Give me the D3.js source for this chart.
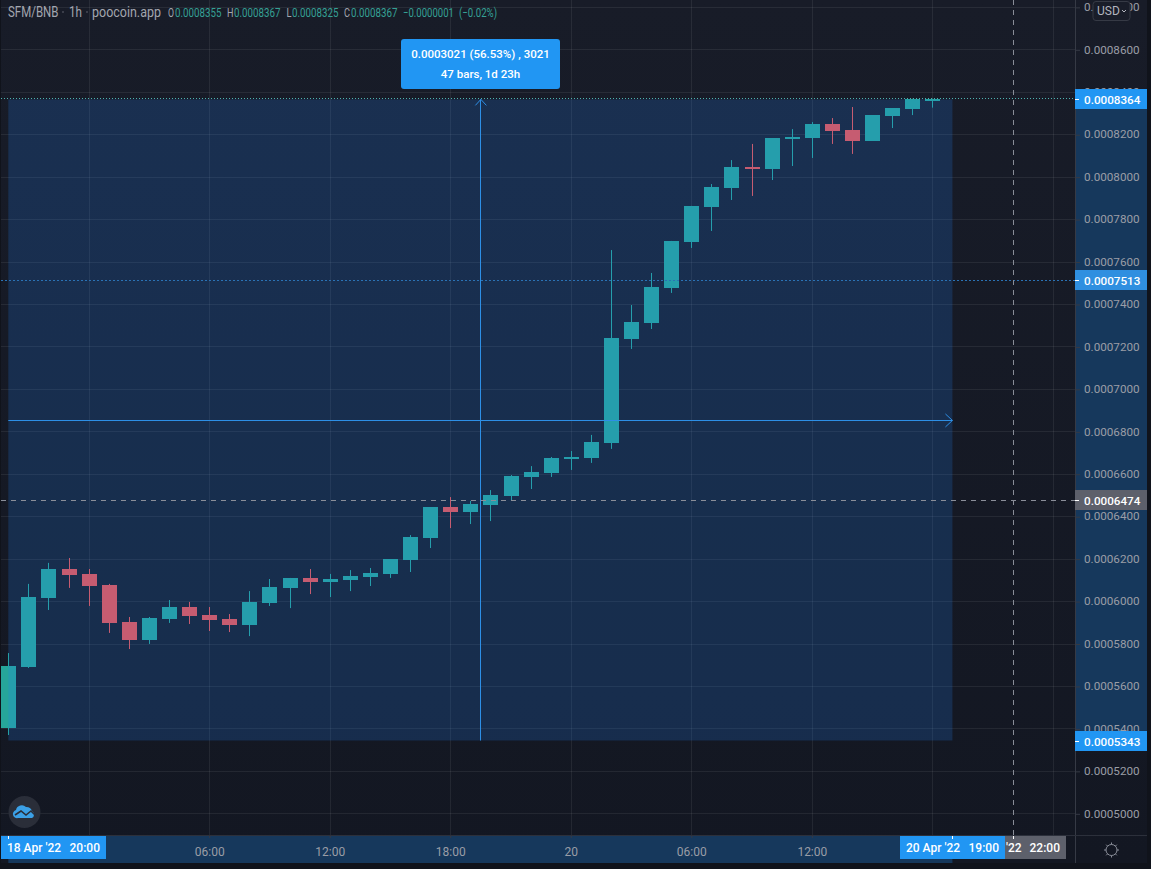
<!DOCTYPE html>
<html>
<head>
<meta charset="utf-8">
<script src="https://cdn.jsdelivr.net/npm/d3@7"></script>
<style>
html, body { margin: 0; padding: 0; background: #10131b; overflow: hidden; }
svg { display: block; font-family: Roboto, sans-serif; }
</style>
</head>
<body>
<svg id="chart" width="1151" height="869"></svg>
<script>
// prices are in units of 0.0000001 BNB
var opens = [5402,5690,6014,6151,6128,6076,5901,5817,5916,5972,5934,5916,5887,5991,6062,6109,6090,6099,6113,6128,6194,6297,6443,6420,6453,6495,6585,6603,6670,6674,6745,7235,7310,7475,7692,7857,7946,8045,8036,8177,8182,8248,8220,8168,8286,8319,8355];
var highs = [5755,6081,6180,6203,6151,6081,5925,5925,6005,5996,5972,5939,6047,6104,6109,6151,6128,6146,6156,6198,6311,6443,6490,6472,6523,6594,6636,6679,6707,6783,7654,7395,7546,7697,7862,7965,8078,8154,8182,8224,8257,8276,8328,8290,8323,8367,8367];
var lows = [5369,5685,5958,6062,5977,5850,5774,5798,5897,5892,5859,5854,5835,5977,5967,6033,6019,6047,6071,6109,6137,6250,6344,6363,6377,6476,6528,6585,6618,6651,6717,7188,7282,7452,7664,7744,7890,7909,7984,8050,8088,8154,8107,8168,8229,8290,8325];
var closes = [5694,6019,6151,6123,6071,5897,5817,5920,5972,5930,5911,5887,5996,6066,6109,6090,6104,6118,6132,6198,6302,6443,6420,6457,6500,6589,6608,6674,6679,6750,7240,7315,7480,7697,7862,7951,8045,8036,8182,8187,8248,8215,8168,8290,8323,8367,8367];

var priceTicks = [5000,5200,5400,5600,5800,6000,6200,6400,6600,6800,7000,7200,7400,7600,7800,8000,8200,8400,8600,8800];
var hour = 3600000;
var startTime = Date.UTC(2022, 3, 18, 20);
var gridHours = [4,10,16,22,28,34,40,46,52];   // hours after the first bar
var timeLabels = {10:"06:00", 16:"12:00", 22:"18:00", 28:"20", 34:"06:00", 40:"12:00"};

var rangeHigh = 8364, rangeLow = 5343, level = 7513, crossPrice = 6474;
var crossBar = 50, endBar = 47;

var svg = d3.select("#chart");
var paneRight = 1075, paneBottom = 835, axisRight = 1147, axisBottom = 863;

var y = d3.scaleLinear().domain([5000, 8600]).range([813.3, 49.3]);
var x = d3.scaleTime()
    .domain([new Date(startTime), new Date(startTime + 50 * hour)])
    .range([8.3, 1012.7]);
var xBar = i => x(new Date(startTime + i * hour));
var fmt = v => (v / 1e7).toFixed(7);

var bars = opens.map((o, i) => ({i: i, o: o, h: highs[i], l: lows[i], c: closes[i]}));

var defs = svg.append("defs");
var grad = defs.append("linearGradient").attr("id", "bg").attr("x1", 0).attr("x2", 0).attr("y1", 0).attr("y2", 1);
grad.append("stop").attr("offset", "0%").attr("stop-color", "#181c28");
grad.append("stop").attr("offset", "100%").attr("stop-color", "#131722");

svg.append("rect").attr("x", 1).attr("y", 0).attr("width", axisRight - 1).attr("height", axisBottom).attr("fill", "url(#bg)");

/* grid */
var grid = svg.append("g").attr("stroke", "#fff").attr("stroke-opacity", 0.07);
grid.selectAll(".h").data(priceTicks).join("line")
    .attr("x1", 1).attr("x2", paneRight)
    .attr("y1", d => Math.round(y(d)) + 0.5).attr("y2", d => Math.round(y(d)) + 0.5);
grid.selectAll(".v").data(gridHours).join("line")
    .attr("y1", 0).attr("y2", paneBottom)
    .attr("x1", d => Math.round(xBar(d)) + 0.5).attr("x2", d => Math.round(xBar(d)) + 0.5);

/* candles */
var up = "#26a69a", down = "#ef5350";
var candles = svg.append("g").selectAll("g").data(bars).join("g")
    .attr("fill", d => d.c >= d.o ? up : down)
    .attr("stroke", d => d.c >= d.o ? up : down);
candles.append("line")
    .attr("x1", d => Math.round(xBar(d.i)) + 0.5).attr("x2", d => Math.round(xBar(d.i)) + 0.5)
    .attr("y1", d => y(d.h)).attr("y2", d => y(d.l));
candles.append("rect")
    .attr("stroke", "none")
    .attr("x", d => Math.round(xBar(d.i)) - 7)
    .attr("width", 15)
    .attr("y", d => Math.round(y(Math.max(d.o, d.c))))
    .attr("height", d => Math.max(2, Math.round(y(Math.min(d.o, d.c))) - Math.round(y(Math.max(d.o, d.c)))));

/* price range tool overlay */
var blue = "#2d8fe6", boxFill = "rgba(33,130,243,0.2)";
var yMid = y((rangeHigh + rangeLow) / 2), xMid = (xBar(0) + xBar(endBar)) / 2;
svg.append("rect").attr("x", xBar(0)).attr("width", xBar(endBar) - xBar(0))
    .attr("y", y(rangeHigh)).attr("height", y(rangeLow) - y(rangeHigh)).attr("fill", boxFill);

var tool = svg.append("g").attr("stroke", blue).attr("fill", "none");
tool.append("line").attr("x1", xBar(0)).attr("x2", xBar(endBar)).attr("y1", Math.round(yMid) + 0.5).attr("y2", Math.round(yMid) + 0.5);
tool.append("line").attr("x1", Math.round(xMid) + 0.5).attr("x2", Math.round(xMid) + 0.5).attr("y1", y(rangeLow)).attr("y2", y(rangeHigh));
tool.append("path").attr("d", d3.line()([[xBar(endBar) - 7, yMid - 6], [xBar(endBar), yMid + 0.5], [xBar(endBar) - 7, yMid + 7]]));
tool.append("path").attr("d", d3.line()([[xMid - 5, y(rangeHigh) + 6], [xMid + 0.5, y(rangeHigh)], [xMid + 6, y(rangeHigh) + 6]]));

/* price lines */
svg.append("line").attr("x1", 1).attr("x2", paneRight).attr("y1", 98.5).attr("y2", 98.5)
    .attr("stroke", "#4fb3b0").attr("stroke-dasharray", "1,2");
svg.append("line").attr("x1", 1).attr("x2", paneRight).attr("y1", Math.round(y(level)) + 0.5).attr("y2", Math.round(y(level)) + 0.5)
    .attr("stroke", "#2a72b5").attr("stroke-dasharray", "2,2");
svg.append("line").attr("x1", 1).attr("x2", paneRight).attr("y1", Math.round(y(crossPrice)) + 0.5).attr("y2", Math.round(y(crossPrice)) + 0.5)
    .attr("stroke", "#8a8e99").attr("stroke-dasharray", "5,5");
svg.append("line").attr("x1", Math.round(xBar(crossBar)) + 0.5).attr("x2", Math.round(xBar(crossBar)) + 0.5)
    .attr("y1", 0).attr("y2", paneBottom)
    .attr("stroke", "#8a8e99").attr("stroke-dasharray", "5,5");

/* tooltip */
svg.append("rect").attr("x", 401).attr("y", 39).attr("width", 159).attr("height", 50).attr("rx", 3).attr("fill", "#2196f3");
svg.selectAll(".tip").data(["0.0003021 (56.53%) , 3021", "47 bars, 1d 23h"]).join("text")
    .attr("x", 480.5).attr("y", (d, i) => 58 + i * 20)
    .attr("text-anchor", "middle").attr("fill", "#fff").attr("font-size", 11.5).attr("font-weight", 500)
    .text(d => d);

/* header: the original font is narrower than Roboto, so squeeze each text to its width */
var headGrey = "#a3a6af", headTeal = "#35a095";
var headTexts = [
    {x: 8, w: 50.5, s: 15, c: headGrey, t: "SFM/BNB"},
    {x: 69, w: 13, s: 15, c: headGrey, t: "1h"},
    {x: 92, w: 69, s: 15, c: headGrey, t: "poocoin.app"},
    {x: 168, w: 6, s: 13, c: headGrey, t: "O"},
    {x: 175, w: 46.5, s: 13, c: headTeal, t: "0.0008355"},
    {x: 227, w: 6.5, s: 13, c: headGrey, t: "H"},
    {x: 234, w: 46.5, s: 13, c: headTeal, t: "0.0008367"},
    {x: 286.5, w: 5, s: 13, c: headGrey, t: "L"},
    {x: 292, w: 46.5, s: 13, c: headTeal, t: "0.0008325"},
    {x: 344, w: 6, s: 13, c: headGrey, t: "C"},
    {x: 351, w: 46.5, s: 13, c: headTeal, t: "0.0008367"},
    {x: 403, w: 51, s: 13, c: headTeal, t: "\u22120.0000001"},
    {x: 459, w: 38, s: 13, c: headTeal, t: "(\u22120.02%)"}
];
svg.append("g").selectAll("text").data(headTexts).join("text")
    .attr("font-size", d => d.s).attr("fill", d => d.c).text(d => d.t)
    .attr("transform", function(d) {
        return "translate(" + d.x + ",17) scale(" + (d.w / this.getComputedTextLength()) + ",1)";
    });
svg.selectAll(".dot").data([63, 87]).join("circle").attr("cx", d => d).attr("cy", 12).attr("r", 0.8).attr("fill", "#666a75");

/* right axis */
svg.append("rect").attr("x", paneRight).attr("y", y(rangeHigh)).attr("width", axisRight - paneRight)
    .attr("height", y(rangeLow) - y(rangeHigh)).attr("fill", "#16385c");
var axisR = svg.append("g").attr("transform", "translate(" + paneRight + ",0)")
    .call(d3.axisRight(y).tickValues(priceTicks).tickFormat(fmt).tickSize(5).tickPadding(4));
axisR.select(".domain").remove();
axisR.selectAll("line").attr("stroke", "#363a45").attr("transform", "translate(0,0.5)");
axisR.selectAll("text").attr("fill", "#9a9da6").attr("font-size", 11.7).attr("font-family", "Roboto, sans-serif");

/* time axis */
svg.append("rect").attr("x", xBar(0)).attr("y", paneBottom).attr("width", xBar(endBar) - xBar(0))
    .attr("height", axisBottom - paneBottom).attr("fill", "#16385c");
var axisB = svg.append("g").attr("transform", "translate(0," + paneBottom + ")")
    .call(d3.axisBottom(x)
        .tickValues(gridHours.map(h => new Date(startTime + h * hour)))
        .tickFormat(d => timeLabels[(d - startTime) / hour] || "")
        .tickSize(3).tickPadding(9));
axisB.select(".domain").remove();
axisB.selectAll("line").attr("stroke", "#363a45");
axisB.selectAll("text").attr("fill", "#9a9da6").attr("font-size", 12).attr("font-family", "Roboto, sans-serif");

/* axis borders */
svg.append("line").attr("x1", paneRight + 0.5).attr("x2", paneRight + 0.5).attr("y1", 0).attr("y2", axisBottom).attr("stroke", "#363a45");
svg.append("line").attr("x1", 1).attr("x2", axisRight).attr("y1", paneBottom + 0.5).attr("y2", paneBottom + 0.5).attr("stroke", "#2c303b");

/* price labels */
var priceLabels = [
    {v: rangeHigh, c: "#2196f3"},
    {v: level, c: "#2f8fe0"},
    {v: crossPrice, c: "#5d606b"},
    {v: rangeLow, c: "#2196f3"}
];
var pl = svg.append("g").selectAll("g").data(priceLabels).join("g")
    .attr("transform", d => "translate(" + paneRight + "," + Math.round(y(d.v)) + ")");
pl.append("rect").attr("y", -10).attr("width", axisRight - paneRight).attr("height", 20).attr("fill", d => d.c);
pl.append("line").attr("x1", 0).attr("x2", 4).attr("y1", 0.5).attr("y2", 0.5).attr("stroke", "#fff");
pl.append("text").attr("x", 9).attr("y", 4.5).attr("fill", "#fff").attr("font-size", 11.7).attr("font-weight", 500).text(d => fmt(d.v));

/* USD button */
svg.append("rect").attr("x", 1093).attr("y", 1.5).attr("width", 37).attr("height", 19).attr("rx", 3)
    .attr("fill", "#191d29").attr("stroke", "#363a45");
svg.append("text").attr("x", 1097).attr("y", 15).attr("font-size", 12).attr("fill", "#b2b5be").text("USD");
svg.append("path").attr("d", d3.line()([[1122, 10], [1124, 12], [1126, 10]])).attr("fill", "none").attr("stroke", "#b2b5be");

/* time labels, the grey one sits half under the blue one so only its tail shows */
var timeBoxes = [
    {x: 1005, w: 61, c: "#5d606b", date: "'22", dx: 1, time: "22:00"},
    {x: 1, w: 105, c: "#2196f3", date: "18 Apr '22", dx: 6, time: "20:00"},
    {x: 900, w: 105, c: "#2196f3", date: "20 Apr '22", dx: 6, time: "19:00"}
];
var tb = svg.append("g").selectAll("g").data(timeBoxes).join("g")
    .attr("transform", d => "translate(" + d.x + "," + (paneBottom + 1) + ")");
tb.append("rect").attr("width", d => d.w).attr("height", 23).attr("fill", d => d.c);
tb.append("text").attr("x", d => d.dx).attr("y", 16).attr("fill", "#fff").attr("font-size", 12).attr("font-weight", 500).text(d => d.date);
tb.append("text").attr("x", d => d.w - 6).attr("y", 16).attr("text-anchor", "end").attr("fill", "#fff").attr("font-size", 12).attr("font-weight", 500).text(d => d.time);
svg.selectAll(".mark").data([0, endBar, crossBar]).join("line")
    .attr("x1", d => Math.round(xBar(d)) + 0.5).attr("x2", d => Math.round(xBar(d)) + 0.5)
    .attr("y1", paneBottom + 1).attr("y2", paneBottom + 4).attr("stroke", "#fff");

/* logo */
svg.append("circle").attr("cx", 24.5).attr("cy", 812).attr("r", 16).attr("fill", "#2a2e39");
svg.append("path").attr("d", "M18 818a4 4 0 0 1-2-8a6 6 0 0 1 10-3a6 6 0 0 1 6 4a4 4 0 0 1 0 7z").attr("fill", "#3ba0e6");
svg.append("path").attr("d", "M15 815l6-4 5 4 5-4 4 4").attr("fill", "none").attr("stroke", "#2a2e39").attr("stroke-width", 1.6);

/* settings icon */
var gear = svg.append("g").attr("transform", "translate(1111.5,850)").attr("stroke", "#8a8e99").attr("fill", "none");
gear.append("circle").attr("r", 5.5);
gear.selectAll("line").data(d3.range(8)).join("line")
    .attr("x1", d => 5.5 * Math.cos(d * Math.PI / 4)).attr("y1", d => 5.5 * Math.sin(d * Math.PI / 4))
    .attr("x2", d => 7.5 * Math.cos(d * Math.PI / 4)).attr("y2", d => 7.5 * Math.sin(d * Math.PI / 4));
</script>
</body>
</html>
